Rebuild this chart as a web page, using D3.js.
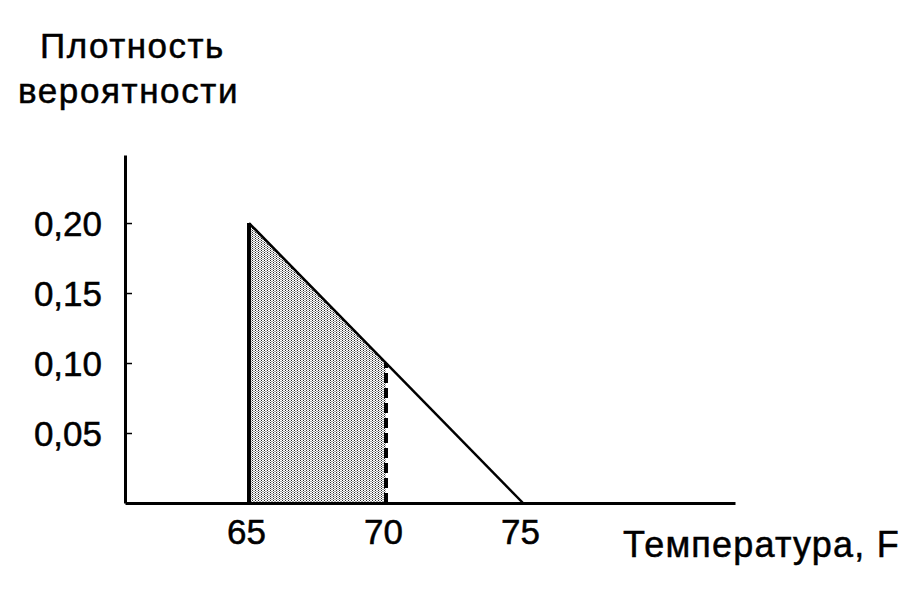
<!DOCTYPE html>
<html>
<head>
<meta charset="utf-8">
<script src="https://cdn.jsdelivr.net/npm/d3@7"></script>
<style>
  html, body { margin: 0; padding: 0; background: #fff; }
  svg { display: block; }
  text { font-family: "Liberation Sans", Arial, Helvetica, sans-serif; fill: #000; stroke: #000; stroke-width: 0.5px; }
</style>
</head>
<body>
<svg id="chart" width="912" height="610"></svg>
<script>
// ---- data ----
const xTicks = [65, 70, 75];
const yTicks = [0.05, 0.10, 0.15, 0.20];
const yTickLabels = ["0,05", "0,10", "0,15", "0,20"];
const densityX = [65, 65, 75];
const densityY = [0, 0.20, 0];
const shadeFrom = 65;
const shadeTo = 70;
const yTitle = ["Плотность", "вероятности"];
const xTitle = "Температура, F";

// ---- scales ----
const svg = d3.select("#chart");
const x = d3.scaleLinear().domain([60.474, 82.737]).range([125, 735]);
const y = d3.scaleLinear().domain([0, 0.2486]).range([503, 155]);

const pts = densityX.map((v, i) => ({x: v, y: densityY[i]}));
// linear interpolation along the sloped edge (between given vertices)
function dens(t) {
  const a = pts[1], b = pts[2];
  if (t < a.x || t > b.x) return 0;
  return a.y + (b.y - a.y) * (t - a.x) / (b.x - a.x);
}

// stipple pattern
const defs = svg.append("defs");
const pat = defs.append("pattern").attr("id", "stip")
  .attr("width", 3).attr("height", 2).attr("patternUnits", "userSpaceOnUse");
pat.append("rect").attr("width", 3).attr("height", 2).attr("fill", "#fff");
pat.append("rect").attr("x", 0).attr("y", 0).attr("width", 1).attr("height", 1).attr("fill", "#000");
pat.append("rect").attr("x", 1.5).attr("y", 1).attr("width", 1).attr("height", 1).attr("fill", "#222");

// shaded area
const area = d3.area().x(d => x(d)).y0(y(0)).y1(d => y(dens(d)));
svg.append("path").datum([shadeFrom, shadeTo])
  .attr("d", area).attr("fill", "url(#stip)").attr("opacity", 0.85);

// density outline
const line = d3.line().x(d => x(d.x)).y(d => y(d.y));
svg.append("path").datum(pts.slice(1))
  .attr("d", line).attr("fill", "none").attr("stroke", "#000").attr("stroke-width", 2.5);
svg.append("path").datum(pts.slice(0, 2))
  .attr("d", line).attr("fill", "none").attr("stroke", "#000").attr("stroke-width", 4);

// dashed line at 70
svg.append("line")
  .attr("x1", x(shadeTo)).attr("x2", x(shadeTo))
  .attr("y1", y(0)).attr("y2", y(dens(shadeTo)))
  .attr("stroke", "#000").attr("stroke-width", 4).attr("stroke-dasharray", "10,5");

// y axis
const yAxis = d3.axisLeft(y).tickValues(yTicks)
  .tickFormat((d, i) => yTickLabels[i]).tickSize(-7).tickSizeOuter(0).tickPadding(23);
const gy = svg.append("g").attr("transform", `translate(${x.range()[0]},0)`).call(yAxis);
gy.select(".domain").attr("stroke-width", 3);
gy.selectAll(".tick line").attr("stroke-width", 1.5);
gy.selectAll(".tick text").style("font-size", "35px").attr("dy", "0.36em");

// x axis
const xAxis = d3.axisBottom(x).tickValues(xTicks).tickSize(0).tickPadding(16);
const gx = svg.append("g").attr("transform", `translate(0,${y(0)})`).call(xAxis);
gx.select(".domain").attr("stroke-width", 3);
gx.selectAll(".tick text").style("font-size", "35px").attr("dx", "-3");

// titles
svg.append("text").attr("x", 40).attr("y", 58).style("font-size", "35px")
  .style("letter-spacing", "1.5px").text(yTitle[0]);
svg.append("text").attr("x", 18).attr("y", 103).style("font-size", "35px")
  .style("letter-spacing", "1.6px").text(yTitle[1]);
svg.append("text").attr("x", 623).attr("y", 557).style("font-size", "36px")
  .style("letter-spacing", "1.2px").text(xTitle);
</script>
</body>
</html>
